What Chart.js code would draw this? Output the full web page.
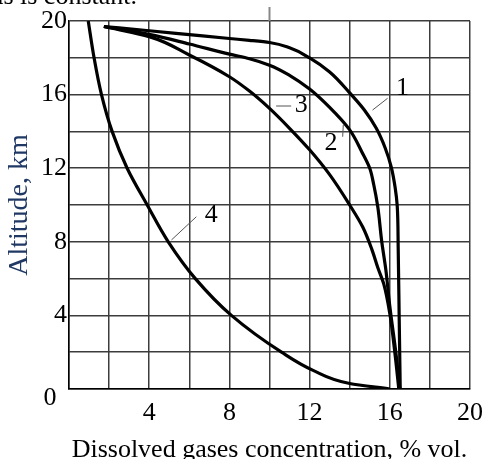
<!DOCTYPE html>
<html>
<head>
<meta charset="utf-8">
<script src="https://cdn.jsdelivr.net/npm/chart.js@4"></script>
<style>
    html, body { margin: 0; padding: 0; overflow: hidden; background: #fff; }
    #wrap { width: 492px; height: 466px; }
</style>
</head>
<body>
<div id="wrap"><canvas id="chart"></canvas></div>
<script>
// tick labels that are printed (grid itself is every 2 units)
const xTicks = [4, 8, 12, 16, 20];
const yTicks = [4, 8, 12, 16, 20];

// curve 1
const curve1X = [1.74, 4, 6, 8, 9, 10, 11, 12, 13, 14, 14.73, 15.32, 15.77, 16.07, 16.27, 16.37, 16.42, 16.47, 16.52];
const curve1Y = [19.7, 19.47, 19.26, 19.05, 18.95, 18.83, 18.55, 17.99, 17.23, 16.09, 15.16, 14.18, 13.1, 12.07, 10.92, 9.95, 7.55, 3.75, 0];
// curve 2
const curve2X = [1.74, 4, 6, 8, 9, 10, 11, 12, 13, 14, 14.6, 15.0, 15.2, 15.4, 15.6, 15.8, 16.0, 16.3, 16.5];
const curve2Y = [19.7, 19.27, 18.75, 18.2, 17.95, 17.6, 17.05, 16.3, 15.3, 14.08, 12.9, 12.0, 11.1, 9.9, 8.0, 6.5, 4.5, 2, 0];
// curve 3
const curve3X = [1.74, 4, 6, 8, 9, 10, 11, 12, 13, 14, 14.65, 15.1, 15.4, 15.7, 16.0, 16.25, 16.45];
const curve3Y = [19.7, 19.15, 18.15, 16.97, 16.19, 15.25, 14.17, 13.0, 11.65, 10.0, 8.8, 7.6, 6.6, 5.7, 4.1, 2.0, 0];
// curve 4
const curve4X = [0.96, 1.25, 1.62, 2.15, 2.9, 3.9, 4.95, 6.3, 8.1, 10.6, 12.2, 14, 16];
const curve4Y = [20, 18, 16, 14, 12, 10, 8, 6, 4, 2, 1.0, 0.3, 0];

// curve numbers and their leader lines
const curveLabels = ['1', '2', '3', '4'];
const labelX = [16.63, 13.07, 11.58, 7.1];
const labelY = [16.34, 13.35, 15.43, 9.46];
const leaderX = [[15.14, 15.89], [13.65, 13.68], [10.33, 11.08], [5.11, 6.35]];
const leaderY = [[15.16, 15.8], [13.71, 14.35], [15.38, 15.38], [8.1, 9.36]];

const serif = '"Liberation Serif", "Times New Roman", serif';

function toPoints(xs, ys) {
    return xs.map((v, i) => ({ x: v, y: ys[i] }));
}

// altitude is the running variable, so the curves are interpolated along y
const curveSets = [[curve1X, curve1Y], [curve2X, curve2Y], [curve3X, curve3Y], [curve4X, curve4Y]].map(([xs, ys], i) => ({
    label: curveLabels[i],
    data: toPoints(xs, ys),
    borderColor: '#000',
    borderWidth: 3.2,
    pointRadius: 0,
    cubicInterpolationMode: 'monotone',
    fill: false
}));

const leaderSets = leaderX.map((xs, i) => ({
    label: 'leader ' + curveLabels[i],
    data: toPoints(xs, leaderY[i]),
    borderColor: '#555',
    borderWidth: 1,
    pointRadius: 0,
    tension: 0,
    fill: false
}));

const annotate = {
    id: 'annotate',
    afterDatasetsDraw(chart) {
        const { ctx, chartArea, scales: { x, y } } = chart;
        ctx.save();
        ctx.fillStyle = '#000';
        ctx.textAlign = 'center';
        ctx.textBaseline = 'middle';
        ctx.font = '26px ' + serif;
        curveLabels.forEach((t, i) => {
            ctx.fillText(t, x.getPixelForValue(labelX[i]), y.getPixelForValue(labelY[i]));
        });

        // the shared zero in the corner
        ctx.fillText('0', chartArea.left - 19, y.getPixelForValue(0) + 9);

        // small stray tick sticking out above the grid
        const mx = x.getPixelForValue(10);
        ctx.strokeStyle = '#888';
        ctx.lineWidth = 2;
        ctx.beginPath();
        ctx.moveTo(mx, chartArea.top - 14);
        ctx.lineTo(mx, chartArea.top);
        ctx.stroke();

        // end of the caption line above, cut off by the crop
        ctx.textAlign = 'right';
        ctx.textBaseline = 'alphabetic';
        ctx.fillText('as is constant.', 137, 4);
        ctx.restore();
    }
};

const tickFont = { family: serif, size: 26 };
const gridStyle = { color: '#3c3c3c', lineWidth: 1.5, drawTicks: false };
const borderStyle = { color: '#000', width: 1.5 };

new Chart(document.getElementById('chart').getContext('2d'), {
    type: 'line',
    data: { datasets: [...curveSets, ...leaderSets] },
    options: {
        indexAxis: 'y',
        responsive: true,
        maintainAspectRatio: false,
        animation: false,
        layout: { padding: { top: 21, right: 4, left: 0, bottom: 0 } },
        scales: {
            x: {
                type: 'linear',
                position: 'bottom',
                min: 0,
                max: 20,
                grid: gridStyle,
                border: borderStyle,
                ticks: {
                    stepSize: 2,
                    autoSkip: false,
                    maxRotation: 0,
                    padding: 9,
                    color: '#000',
                    font: tickFont,
                    callback: v => xTicks.includes(v) ? v : ''
                },
                title: {
                    display: true,
                    text: 'Dissolved gases concentration, % vol.',
                    color: '#000',
                    font: { family: serif, size: 26 },
                    padding: 0
                },
                afterFit: scale => { scale.height = 77; }
            },
            y: {
                type: 'linear',
                position: 'left',
                min: 0,
                max: 20,
                grid: gridStyle,
                border: borderStyle,
                ticks: {
                    stepSize: 2,
                    autoSkip: false,
                    padding: 2,
                    color: '#000',
                    font: tickFont,
                    callback: v => yTicks.includes(v) ? v : ''
                },
                title: {
                    display: true,
                    text: 'Altitude, km',
                    color: '#1f3864',
                    font: { family: serif, size: 28 },
                    padding: { top: 3, bottom: 0 }
                },
                afterFit: scale => { scale.width = 69; }
            }
        },
        plugins: {
            legend: { display: false },
            tooltip: { enabled: false }
        }
    },
    plugins: [annotate]
});
</script>
</body>
</html>
